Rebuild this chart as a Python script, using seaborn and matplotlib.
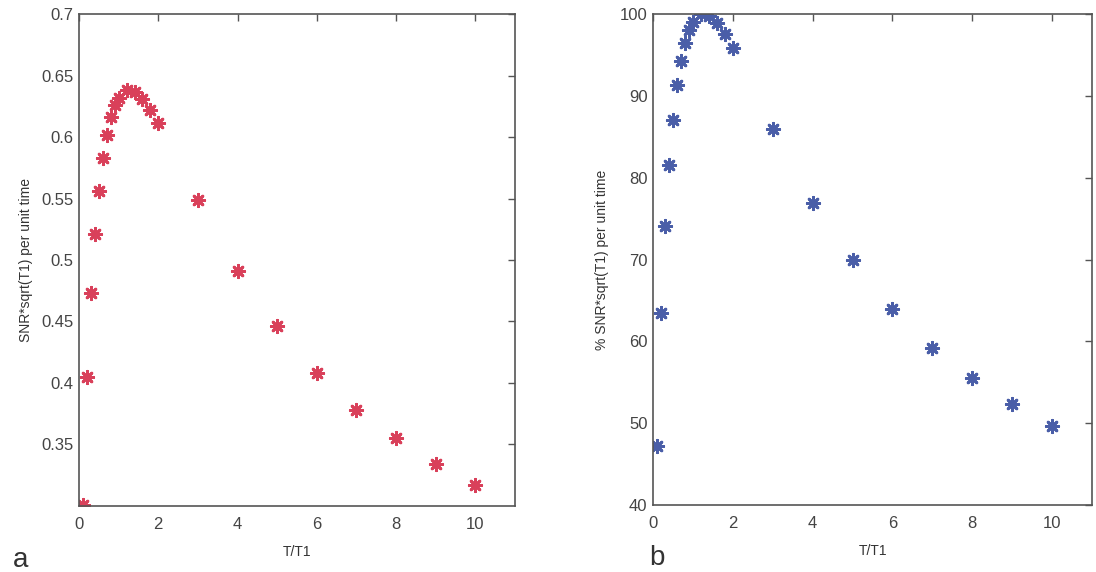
import matplotlib
matplotlib.use("Agg")
import matplotlib.pyplot as plt
import seaborn as sns
import pandas as pd

# T/T1 sample points (shared by both panels)
t_ratio = [0.1, 0.2, 0.3, 0.4, 0.5, 0.6, 0.7, 0.8, 0.9, 1.0,
           1.2, 1.4, 1.6, 1.8, 2.0, 3, 4, 5, 6, 7, 8, 9, 10]
# panel a: SNR*sqrt(T1) per unit time
snr_rate = [0.301, 0.405, 0.473, 0.521, 0.556, 0.583, 0.602, 0.616, 0.626, 0.632,
            0.638, 0.637, 0.631, 0.622, 0.611, 0.549, 0.491, 0.446, 0.408, 0.378,
            0.355, 0.334, 0.317]
# panel b: same in percent of maximum
snr_pct = [47.2, 63.5, 74.1, 81.6, 87.1, 91.3, 94.3, 96.5, 98.1, 99.0,
           100.0, 99.8, 98.9, 97.5, 95.8, 86.0, 76.9, 69.9, 63.9, 59.2,
           55.5, 52.3, 49.6]

left_yticks = [0.35, 0.4, 0.45, 0.5, 0.55, 0.6, 0.65, 0.7]
left_yticklabels = ["0.35", "0.4", "0.45", "0.5", "0.55", "0.6", "0.65", "0.7"]
right_yticks = [40, 50, 60, 70, 80, 90, 100]
xticks = [0, 2, 4, 6, 8, 10]

df = pd.DataFrame({"t": t_ratio, "snr": snr_rate, "pct": snr_pct})

sns.set_style("white")
plt.rcParams["font.family"] = ["Liberation Sans", "DejaVu Sans"]
plt.rcParams["xtick.direction"] = "in"
plt.rcParams["ytick.direction"] = "in"

fig = plt.figure(figsize=(10.96, 5.72), dpi=100)
ax1 = fig.add_axes([0.0721, 0.1154, 0.3978, 0.8601])
ax2 = fig.add_axes([0.5958, 0.1171, 0.4006, 0.8584])

asterisk = (8, 2, 0)
sns.scatterplot(data=df, x="t", y="snr", ax=ax1, marker=asterisk, s=80,
                color="#d9405a", linewidth=2.0, edgecolor="#d9405a")
sns.scatterplot(data=df, x="t", y="pct", ax=ax2, marker=asterisk, s=80,
                color="#4a5ea8", linewidth=2.0, edgecolor="#4a5ea8")

ax1.set_xlim(0, 11)
ax1.set_ylim(0.3, 0.7)
ax1.set_yticks(left_yticks)
ax1.set_yticklabels(left_yticklabels)
ax1.set_ylabel("SNR*sqrt(T1) per unit time", fontsize=10, color="#333333",
               labelpad=6)

ax2.set_xlim(0, 11)
ax2.set_ylim(40, 100)
ax2.set_yticks(right_yticks)
ax2.set_ylabel("% SNR*sqrt(T1) per unit time", fontsize=10, color="#333333",
               labelpad=8)

for ax in (ax1, ax2):
    ax.set_xticks(xticks)
    ax.set_xlabel("T/T1", fontsize=10, color="#333333", labelpad=9)
    ax.tick_params(axis="both", which="both", direction="in", top=True, right=True,
                   length=5, width=1, labelsize=12, labelcolor="#444444",
                   color="#555555", pad=4)
    ax.tick_params(axis="x", pad=8)
    for sp in ax.spines.values():
        sp.set_color("#555555")
        sp.set_linewidth(1.2)

fig.text(0.012, 0.008, "a", fontsize=20, color="#333333")
fig.text(0.592, 0.013, "b", fontsize=20, color="#333333")

fig.savefig("out.png", dpi=100)
plt.close("all")
